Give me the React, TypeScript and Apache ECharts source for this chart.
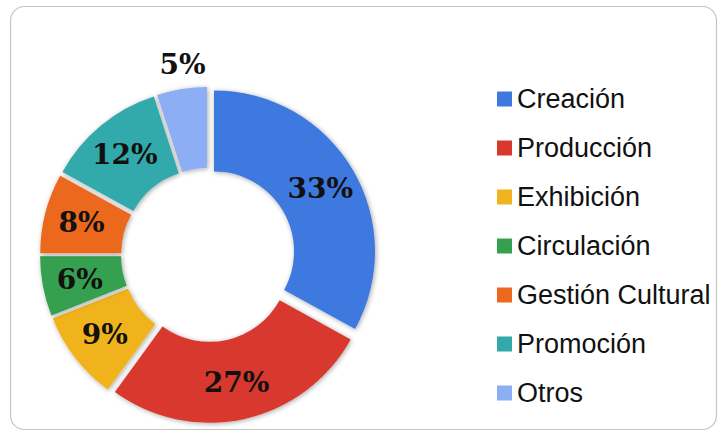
import React, { useEffect, useRef } from "react";
import * as echarts from "echarts";

const categories = ["Creación", "Producción", "Exhibición", "Circulación", "Gestión Cultural", "Promoción", "Otros"];
const values = [33, 27, 9, 6, 8, 12, 5];
const colors = ["#3E79DE", "#D9382D", "#F0B31E", "#34A050", "#EC681E", "#32A9AA", "#8DADF4"];

export default function App() {
  const ref = useRef<HTMLDivElement>(null);
  useEffect(() => {
    if (!ref.current) return;
    const chart = echarts.init(ref.current, null, { renderer: "svg" });
    chart.setOption({
      animation: false,
      backgroundColor: "#ffffff",
      graphic: [
        {
          type: "rect",
          shape: { x: 10.5, y: 6.5, width: 706, height: 423, r: 14 },
          style: { fill: "none", stroke: "#c4c4c4", lineWidth: 1.2 },
          silent: true,
          z: -10,
        },
      ],
      legend: {
        orient: "vertical",
        left: 492,
        top: 80,
        itemWidth: 15,
        itemHeight: 15,
        itemGap: 21,
        icon: "rect",
        selectedMode: false,
        data: categories,
        textStyle: {
          fontFamily: "Liberation Sans, Arial, sans-serif",
          fontSize: 27,
          color: "#111",
          lineHeight: 28,
        },
      },
      series: [
        {
          type: "pie",
          center: [208, 255],
          radius: [80, 161],
          startAngle: 90,
          clockwise: true,
          selectedMode: "multiple",
          selectedOffset: 7,
          emphasis: { disabled: true },
          itemStyle: {
            shadowBlur: 5,
            shadowColor: "rgba(0,0,0,0.35)",
            shadowOffsetX: 1,
            shadowOffsetY: 1,
          },
          label: {
            show: true,
            position: "inside",
            formatter: "{c}%",
            fontFamily: "DejaVu Serif, Georgia, serif",
            fontWeight: "bold",
            fontSize: 28,
            color: "#111",
          },
          labelLine: { show: false },
          labelLayout: (params: any) => {
            if (params.dataIndex === 6) return { dx: -5, dy: -62 };
            return {};
          },
          data: categories.map((name, i) => ({
            name,
            value: values[i],
            selected: true,
            itemStyle: { color: colors[i] },
          })),
        },
      ],
    });
    return () => chart.dispose();
  }, []);
  return (
    <div
      ref={ref}
      style={{ position: "fixed", left: 0, top: 0, width: 722, height: 434 }}
    />
  );
}
